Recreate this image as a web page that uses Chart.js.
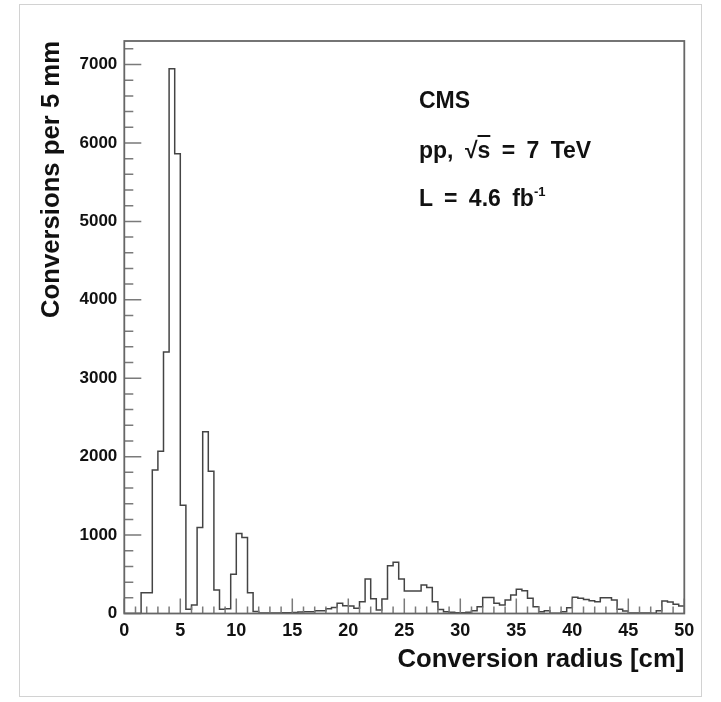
<!DOCTYPE html>
<html>
<head>
<meta charset="utf-8">
<script src="https://cdn.jsdelivr.net/npm/chart.js@4"></script>
<style>
html,body{margin:0;padding:0;background:#fff;}
#wrap{position:relative;width:721px;height:702px;overflow:hidden;}
canvas{position:absolute;left:0;top:0;}
#frame{position:absolute;left:19px;top:4px;width:683px;height:693px;border:1px solid #d2d2d2;box-sizing:border-box;pointer-events:none;}
.ann{position:absolute;left:419px;font-family:"Liberation Sans",Arial,Helvetica,sans-serif;font-weight:bold;font-size:23px;line-height:23px;color:#111;white-space:nowrap;word-spacing:5px;}
.ov{text-decoration:overline;}
.sup{font-size:13px;position:relative;top:-10px;}
</style>
</head>
<body>
<div id="wrap">
<canvas id="c" width="721" height="702"></canvas>
<div id="frame"></div>
<div class="ann" style="top:89px">CMS</div>
<div class="ann" style="top:139px">pp, √<span class="ov">s</span> = 7 TeV</div>
<div class="ann" style="top:187px">L = 4.6 fb<span class="sup">-1</span></div>
</div>
<script>
// ---- data ----
const binStart = 0;      // cm
const binWidth = 0.5;    // cm (5 mm)
const counts = [
  0, 0, 0, 265, 265, 1830, 2070, 3335, 6945, 5862,
  1380, 53, 108, 1098, 2316, 1815, 300, 53, 60, 500,
  1021, 970, 266, 25, 6, 5, 5, 6, 8, 10,
  14, 18, 23, 23, 35, 35, 60, 75, 130, 100,
  96, 66, 150, 440, 189, 44, 185, 609, 652, 440,
  287, 287, 287, 363, 330, 150, 50, 23, 15, 10,
  10, 15, 35, 85, 205, 205, 130, 108, 172, 236,
  308, 291, 193, 87, 23, 36, 3, 3, 23, 74,
  206, 193, 180, 164, 150, 202, 202, 172, 53, 32,
  5, 5, 5, 5, 3, 36, 160, 147, 117, 96
];
const xTicks = [0, 5, 10, 15, 20, 25, 30, 35, 40, 45, 50];
const yTicks = [0, 1000, 2000, 3000, 4000, 5000, 6000, 7000];
const xMin = 0, xMax = 50, xMinorStep = 1;
const yMin = 0, yMax = 7300, yMinorStep = 200;
const xTitle = 'Conversion radius [cm]';
const yTitle = 'Conversions per 5 mm';

// step outline points at bin low edges, plus closing edge
const points = counts.map((v, i) => ({x: binStart + i * binWidth, y: v}));
points.push({x: binStart + counts.length * binWidth, y: counts[counts.length - 1]});

const FONT = '"Liberation Sans", Arial, Helvetica, sans-serif';

const rootTicks = {
  id: 'rootTicks',
  afterDatasetsDraw(chart) {
    const {ctx, chartArea: a, scales: {x, y}} = chart;
    ctx.save();
    ctx.strokeStyle = '#7a7a7a';
    ctx.lineWidth = 1.5;
    ctx.beginPath();
    const nx = Math.round((xMax - xMin) / xMinorStep);
    for (let i = 0; i <= nx; i++) {
      const v = xMin + i * xMinorStep;
      const px = x.getPixelForValue(v);
      const major = xTicks.some(t => Math.abs(t - v) < 1e-9);
      const len = major ? 15 : 7;
      ctx.moveTo(px, a.bottom);
      ctx.lineTo(px, a.bottom - len);
    }
    const ny = Math.floor((yMax - yMin) / yMinorStep);
    for (let i = 0; i <= ny; i++) {
      const v = yMin + i * yMinorStep;
      const py = y.getPixelForValue(v);
      const major = yTicks.some(t => Math.abs(t - v) < 1e-9);
      const len = major ? 17 : 9;
      ctx.moveTo(a.left, py);
      ctx.lineTo(a.left + len, py);
    }
    ctx.stroke();
    ctx.strokeStyle = '#666';
    ctx.lineWidth = 1.8;
    ctx.strokeRect(a.left, a.top, a.right - a.left, a.bottom - a.top);
    ctx.restore();
  }
};

new Chart(document.getElementById('c'), {
  type: 'line',
  data: {
    datasets: [{
      data: points,
      stepped: 'before',
      borderColor: '#444',
      borderWidth: 1.5,
      pointRadius: 0,
      fill: false,
      tension: 0
    }]
  },
  options: {
    responsive: false,
    animation: false,
    devicePixelRatio: 1,
    layout: {padding: {left: 0, top: 41, right: 36.7, bottom: 0}},
    plugins: {legend: {display: false}, tooltip: {enabled: false}},
    scales: {
      x: {
        type: 'linear',
        min: xMin, max: xMax,
        grid: {display: false, drawTicks: false},
        border: {display: false},
        afterBuildTicks: s => { s.ticks = xTicks.map(v => ({value: v})); },
        afterFit: s => { s.height = 88.5; },
        ticks: {
          autoSkip: false, maxRotation: 0, padding: 7,
          color: '#111',
          font: {family: FONT, size: 18, weight: 'bold'},
          callback: v => String(v)
        },
        title: {
          display: true, text: xTitle, align: 'end', color: '#111',
          font: {family: FONT, size: 25.7, weight: 'bold'},
          padding: {top: 0, bottom: 27}
        }
      },
      y: {
        type: 'linear',
        min: yMin, max: yMax,
        grid: {display: false, drawTicks: false},
        border: {display: false},
        afterBuildTicks: s => { s.ticks = yTicks.map(v => ({value: v})); },
        afterFit: s => { s.width = 124.3; },
        ticks: {
          autoSkip: false, padding: 7,
          color: '#111',
          font: {family: FONT, size: 17, weight: 'bold'},
          callback: v => String(v)
        },
        title: {
          display: true, text: yTitle, align: 'end', color: '#111',
          font: {family: FONT, size: 25.7, weight: 'bold'},
          padding: {top: 36, bottom: 0}
        }
      }
    }
  },
  plugins: [rootTicks]
});
</script>
</body>
</html>
